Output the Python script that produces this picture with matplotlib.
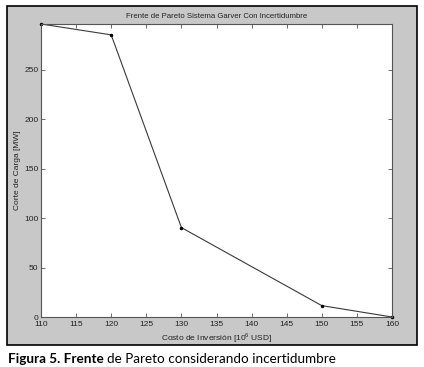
import matplotlib
matplotlib.use('Agg')
import matplotlib.pyplot as plt
from matplotlib.patches import Rectangle

# Data
costo = [110, 120, 130, 150, 160]          # inversion cost [10^6 USD]
corte = [296.5, 285.5, 90.5, 11.5, 0.0]    # load shedding [MW]
x_ticks = [110, 115, 120, 125, 130, 135, 140, 145, 150, 155, 160]
y_ticks = [0, 50, 100, 150, 200, 250]

TITLE = 'Frente de Pareto Sistema Garver Con Incertidumbre'
XLABEL = 'Costo de Inversión [10$^6$ USD]'
YLABEL = 'Corte de Carga [MW]'

plt.rcParams['font.family'] = ['Liberation Sans', 'DejaVu Sans']
plt.rcParams['mathtext.fontset'] = 'custom'
plt.rcParams['mathtext.rm'] = 'Liberation Sans'

fig = plt.figure(figsize=(4.24, 3.67), dpi=100)
fig.patch.set_facecolor('white')

# gray MATLAB-style figure background with black frame
fig.patches.append(Rectangle((7 / 424, 1 - 345 / 367), 410 / 424, 339 / 367,
                             transform=fig.transFigure, facecolor='#c8c8c8',
                             edgecolor='black', linewidth=1.2, zorder=0))

ax = fig.add_axes([41 / 424, 1 - 317 / 367, 351 / 424, 293 / 367])
ax.set_zorder(2)
ax.set_facecolor('white')
ax.plot(costo, corte, color='#3a3a3a', linewidth=0.8, marker='.',
        markersize=3, markerfacecolor='black', markeredgecolor='black',
        clip_on=False)

ax.set_xlim(110, 160)
ax.set_ylim(0, 296.5)
ax.set_xticks(x_ticks)
ax.set_yticks(y_ticks)
ax.tick_params(direction='in', length=3, width=0.6, top=True, right=True,
               labelsize=6, colors='#555555', labelcolor='#222222', pad=2)
ax.tick_params(axis='x', pad=3.2)
for s in ax.spines.values():
    s.set_color('#555555')
    s.set_linewidth(0.8)

ax.set_title(TITLE, fontsize=5.6, color='#222222', pad=4)
ax.set_xlabel(XLABEL, fontsize=6, color='#222222', labelpad=1.5)
ax.set_ylabel(YLABEL, fontsize=6, color='#222222', labelpad=2)

# caption below the figure
cap_fam = ['Lato', 'DejaVu Sans']
t1 = fig.text(8 / 424, 1 - 363 / 367, 'Figura 5. Frente', fontsize=9.7,
              fontweight='bold', family=cap_fam, ha='left', va='baseline')
fig.canvas.draw()
bb = t1.get_window_extent()
fig.text(bb.x1 / 424 + 0.008, 1 - 363 / 367, 'de Pareto considerando incertidumbre',
         fontsize=9.7, family=cap_fam, ha='left', va='baseline')

fig.savefig('out.png', dpi=100)
